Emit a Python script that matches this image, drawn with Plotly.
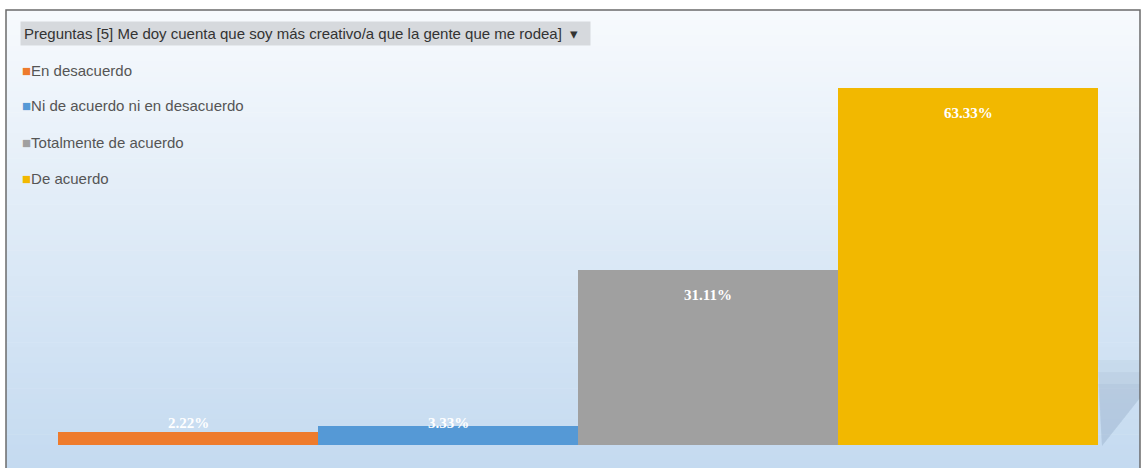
import plotly.graph_objects as go

# Survey answers and their shares (%)
categories = ["En desacuerdo", "Ni de acuerdo ni en desacuerdo",
              "Totalmente de acuerdo", "De acuerdo"]
values = [2.22, 3.33, 31.11, 63.33]
colors = ["#EE7B2C", "#5599D6", "#A0A0A0", "#F2B800"]
title_text = "Preguntas [5] Me doy cuenta que soy más creativo/a que la gente que me rodea]"

W, H = 1141, 468


def px(x):
    return x / W


def py(y):
    return 1 - y / H


fig = go.Figure()

# One bar per answer, touching each other
for i, (cat, val, col) in enumerate(zip(categories, values, colors)):
    fig.add_trace(go.Bar(
        x=[i], y=[val], width=1, name=cat,
        marker=dict(color=col, line=dict(width=0)),
        showlegend=False, hoverinfo="name+y",
    ))

shapes = []

# Vertical gradient background inside the frame
top_c = (247, 250, 253)
bot_c = (196, 218, 240)
n_bands = 90
y_top, y_bot = 10, 470
for k in range(n_bands):
    t = k / (n_bands - 1)
    c = tuple(int(round(a + (b - a) * t)) for a, b in zip(top_c, bot_c))
    y0 = y_top + (y_bot - y_top) * k / n_bands
    y1 = y_top + (y_bot - y_top) * (k + 1) / n_bands + 0.6
    shapes.append(dict(type="rect", xref="paper", yref="paper",
                       x0=px(6), x1=px(1140), y0=py(y1), y1=py(y0),
                       fillcolor="rgb(%d,%d,%d)" % c, line=dict(width=0),
                       layer="below"))

# Soft shadow falling to the right of the tallest bar (stacked translucent layers)
for k, (top, alpha) in enumerate([(360, 0.07), (372, 0.07), (384, 0.08)]):
    shapes.append(dict(type="path", xref="paper", yref="paper",
                       path="M %f,%f L %f,%f L %f,%f L %f,%f Z" % (
                           px(1098), py(top), px(1140), py(top),
                           px(1140), py(398), px(1102), py(446)),
                       fillcolor="rgba(100,125,160,%.2f)" % alpha, line=dict(width=0),
                       layer="below"))

# Frame
shapes.append(dict(type="rect", xref="paper", yref="paper",
                   x0=px(6), x1=px(1140), y0=py(472), y1=py(10),
                   line=dict(color="#6b6b6b", width=1.5),
                   fillcolor="rgba(0,0,0,0)", layer="above"))

annotations = []

# Filter header
annotations.append(dict(
    xref="paper", yref="paper", x=px(20), y=py(34), xanchor="left", yanchor="middle",
    text=title_text + "  ▾  ", showarrow=False,
    font=dict(family="Liberation Sans, Arial", size=15, color="#333333"),
    bgcolor="#d6d9dd", borderpad=3,
))

# Legend entries
for i, (cat, col) in enumerate(zip(categories, colors)):
    annotations.append(dict(
        xref="paper", yref="paper", x=px(20), y=py(70 + 36 * i),
        xanchor="left", yanchor="middle", showarrow=False,
        text='<span style="color:%s">■</span>%s' % (col, cat),
        font=dict(family="Liberation Sans, Arial", size=15, color="#555555"),
    ))

# Value labels
for i, val in enumerate(values):
    if val > 10:
        y, shift = val, -25
    else:
        y, shift = 0, 22
    annotations.append(dict(
        x=i, y=y, yshift=shift, xref="x", yref="y", showarrow=False,
        text="<b>%.2f%%</b>" % val,
        font=dict(family="Liberation Serif, DejaVu Serif", size=15, color="white"),
    ))

fig.update_layout(
    width=W, height=H,
    margin=dict(l=0, r=0, t=0, b=0),
    paper_bgcolor="white",
    plot_bgcolor="rgba(0,0,0,0)",
    bargap=0,
    xaxis=dict(domain=[58 / W, 1098 / W], range=[-0.5, 3.5], visible=False, fixedrange=True),
    yaxis=dict(domain=[1 - 445 / H, 1 - 50 / H], range=[0, 70.07], visible=False, fixedrange=True),
    shapes=shapes,
    annotations=annotations,
    showlegend=False,
)

fig.write_html("out.html")
